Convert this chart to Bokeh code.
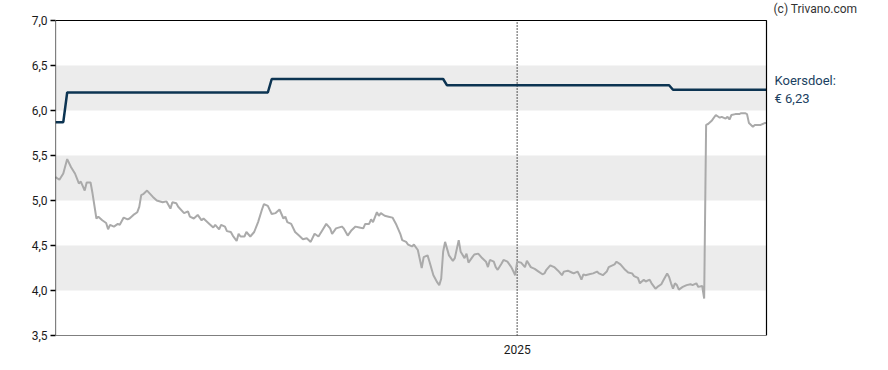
import pandas as pd
from bokeh.plotting import figure
from bokeh.models import Range1d, FixedTicker, BoxAnnotation, Label, CustomJSTickFormatter
from bokeh.embed import file_html
from bokeh.resources import INLINE

# ---------------- data ----------------
start_date = "2024-05-09"
end_date = "2025-05-09"
year_tick_date = "2025-01-01"
year_tick_label = "2025"

# closing price (days since start_date)
price_day = [0, 2, 4, 6, 8, 10, 12, 13, 15, 16,
             18, 19, 21, 22, 24, 26, 27, 28, 30, 32,
             33, 35, 37, 38, 40, 42, 43, 44, 45, 47,
             50, 52, 55, 57, 59, 60, 62, 63, 66, 68,
             69, 71, 73, 75, 76, 79, 81, 82, 84, 85,
             87, 88, 90, 91, 93, 94, 95, 97, 98, 100,
             102, 104, 106, 107, 109, 111, 113, 115, 117, 118,
             119, 121, 123, 125, 127, 129, 131, 133, 135, 137,
             139, 141, 142, 144, 147, 148, 150, 152, 154, 156,
             158, 159, 161, 162, 163, 165, 166, 167, 169, 171,
             173, 175, 177, 178, 180, 181, 183, 184, 186, 188,
             189, 191, 192, 194, 196, 197, 198, 199, 200, 202,
             204, 205, 207, 208, 210, 211, 212, 214, 215, 217,
             219, 221, 222, 223, 225, 226, 227, 229, 230, 232,
             234, 236, 237, 239, 241, 242, 244, 246, 248, 250,
             251, 252, 254, 256, 258, 260, 261, 263, 265, 266,
             268, 269, 270, 271, 272, 274, 276, 278, 279, 281,
             283, 284, 287, 288, 290, 292, 294, 296, 297, 299,
             300, 302, 303, 305, 306, 308, 309, 311, 312, 314,
             315, 316, 317, 318, 319, 320, 322, 324, 326, 327,
             329, 330, 332, 333, 334, 335, 337, 339, 341, 342,
             344, 345, 346, 347, 349, 351, 352, 354, 355, 356,
             358, 359, 361, 362, 364, 365]
price_value = [5.26, 5.23, 5.30, 5.46, 5.37, 5.30, 5.19, 5.21, 5.11, 5.20,
               5.20, 5.08, 4.80, 4.82, 4.78, 4.75, 4.68, 4.73, 4.71, 4.74,
               4.73, 4.81, 4.79, 4.80, 4.84, 4.87, 4.93, 5.06, 5.07, 5.11,
               5.04, 5.00, 4.98, 4.99, 4.91, 4.98, 4.97, 4.93, 4.86, 4.88,
               4.82, 4.80, 4.84, 4.78, 4.80, 4.74, 4.70, 4.73, 4.68, 4.73,
               4.71, 4.66, 4.65, 4.61, 4.55, 4.63, 4.60, 4.60, 4.65, 4.60,
               4.65, 4.76, 4.90, 4.96, 4.94, 4.85, 4.86, 4.90, 4.80, 4.82,
               4.76, 4.74, 4.65, 4.61, 4.57, 4.58, 4.54, 4.63, 4.60, 4.67,
               4.74, 4.69, 4.63, 4.69, 4.71, 4.69, 4.61, 4.67, 4.71, 4.70,
               4.69, 4.74, 4.74, 4.79, 4.76, 4.87, 4.83, 4.86, 4.83, 4.82,
               4.81, 4.73, 4.63, 4.56, 4.54, 4.51, 4.49, 4.51, 4.45, 4.25,
               4.37, 4.39, 4.32, 4.17, 4.09, 4.06, 4.13, 4.43, 4.54, 4.39,
               4.33, 4.36, 4.56, 4.43, 4.36, 4.41, 4.31, 4.37, 4.40, 4.41,
               4.36, 4.32, 4.26, 4.34, 4.32, 4.26, 4.23, 4.30, 4.34, 4.32,
               4.26, 4.17, 4.32, 4.31, 4.26, 4.33, 4.26, 4.24, 4.21, 4.18,
               4.19, 4.23, 4.28, 4.26, 4.22, 4.17, 4.21, 4.22, 4.20, 4.19,
               4.21, 4.17, 4.12, 4.18, 4.17, 4.18, 4.19, 4.21, 4.19, 4.17,
               4.21, 4.26, 4.29, 4.32, 4.29, 4.24, 4.20, 4.19, 4.16, 4.14,
               4.08, 4.12, 4.10, 4.12, 4.08, 4.02, 4.04, 4.07, 4.11, 4.19,
               4.15, 4.08, 4.02, 4.08, 4.06, 4.01, 4.04, 4.06, 4.07, 4.06,
               4.08, 4.04, 4.05, 3.91, 5.84, 5.85, 5.89, 5.95, 5.92, 5.93,
               5.91, 5.93, 5.90, 5.95, 5.96, 5.96, 5.97, 5.97, 5.96, 5.86,
               5.82, 5.84, 5.84, 5.84, 5.86, 5.86]

# price target (koersdoel)
target_day = [0, 4, 6, 109, 111, 199, 201, 315, 317, 365]
target_value = [5.87, 5.87, 6.20, 6.20, 6.35, 6.35, 6.28, 6.28, 6.23, 6.23]

y_ticks = [3.5, 4.0, 4.5, 5.0, 5.5, 6.0, 6.5, 7.0]
band_bottom = [4.0, 5.0, 6.0]
band_top = [4.5, 5.5, 6.5]

target_title = "Koersdoel:"
copyright_text = "(c) Trivano.com"

# ---------------- derived ----------------
start = pd.Timestamp(start_date)
total_days = (pd.Timestamp(end_date) - start).days
day_year = (pd.Timestamp(year_tick_date) - start).days
last_target = target_value[-1]
target_text = "€ " + f"{last_target:.2f}".replace(".", ",")
y_lo, y_hi = y_ticks[0], y_ticks[-1]

FONT = "Roboto"
FIG_W, FIG_H = 880, 362
LEFT, BOTTOM = 55, 27          # space for the axes
CHART_W, CHART_H = 711, 315    # the boxed chart area
TOP_PAD = 20                   # space above the box (for the copyright)
FRAME_W = FIG_W - LEFT
FRAME_H = CHART_H + TOP_PAD

x_end = total_days * FRAME_W / CHART_W
y_end = y_lo + (y_hi - y_lo) * FRAME_H / CHART_H

p = figure(width=FIG_W, height=FIG_H, output_backend="svg", toolbar_location=None,
           x_range=Range1d(0, x_end), y_range=Range1d(y_lo, y_end),
           frame_width=FRAME_W, frame_height=FRAME_H,
           min_border_left=LEFT, min_border_right=0, min_border_top=0, min_border_bottom=BOTTOM)
p.background_fill_color = "white"
p.border_fill_color = "white"
p.outline_line_color = None
p.xgrid.visible = False
p.ygrid.visible = False

for b, t in zip(band_bottom, band_top):
    p.add_layout(BoxAnnotation(left=0, right=total_days, bottom=b, top=t,
                               fill_color="#ececec", fill_alpha=1,
                               line_alpha=0, level="underlay"))

# chart box
p.add_layout(BoxAnnotation(left=0, right=total_days, bottom=y_lo, top=y_hi,
                           fill_alpha=0, line_color="black", line_alpha=1,
                           line_width=1.2, level="overlay"))

# dotted year marker
p.segment(x0=[day_year], y0=[y_lo], x1=[day_year], y1=[y_hi],
          line_color="black", line_dash="1 2", line_width=1.3)

p.line(price_day, price_value, line_color="#aaaaaa", line_width=2)
p.line(target_day, target_value, line_color="#0c3452", line_width=2.5)

# y axis
p.yaxis.ticker = FixedTicker(ticks=y_ticks)
p.yaxis.formatter = CustomJSTickFormatter(code="return tick.toFixed(1).replace('.', ',');")
p.yaxis.major_tick_out = 5
p.yaxis.major_tick_in = 0
p.yaxis.minor_tick_line_color = None
p.yaxis.axis_line_color = None
p.yaxis.major_tick_line_color = "black"
p.yaxis.major_tick_line_width = 1.3
p.yaxis.major_label_standoff = 3

# x axis
p.xaxis.ticker = FixedTicker(ticks=[day_year])
p.xaxis.major_label_overrides = {day_year: year_tick_label}
p.xaxis.major_tick_out = 0
p.xaxis.major_tick_in = 0
p.xaxis.minor_tick_line_color = None
p.xaxis.axis_line_color = None
p.xaxis.major_label_standoff = 9

for ax in (p.xaxis, p.yaxis):
    ax.major_label_text_font = FONT
    ax.major_label_text_font_size = "12px"
    ax.major_label_text_color = "#1a1a1a"

# side texts
p.add_layout(Label(x=total_days, y=y_hi, x_offset=7, y_offset=12,
                   text=copyright_text, text_font=FONT, text_font_size="12px",
                   text_color="#333333", text_baseline="middle"))
p.add_layout(Label(x=total_days, y=last_target, x_offset=8, y_offset=9,
                   text=target_title, text_font=FONT, text_font_size="13px",
                   text_color="#1b3f61", text_baseline="middle"))
p.add_layout(Label(x=total_days, y=last_target, x_offset=8, y_offset=-9,
                   text=target_text, text_font=FONT, text_font_size="13px",
                   text_color="#1b3f61", text_baseline="middle"))

open("out.html", "w").write(file_html(p, INLINE))
